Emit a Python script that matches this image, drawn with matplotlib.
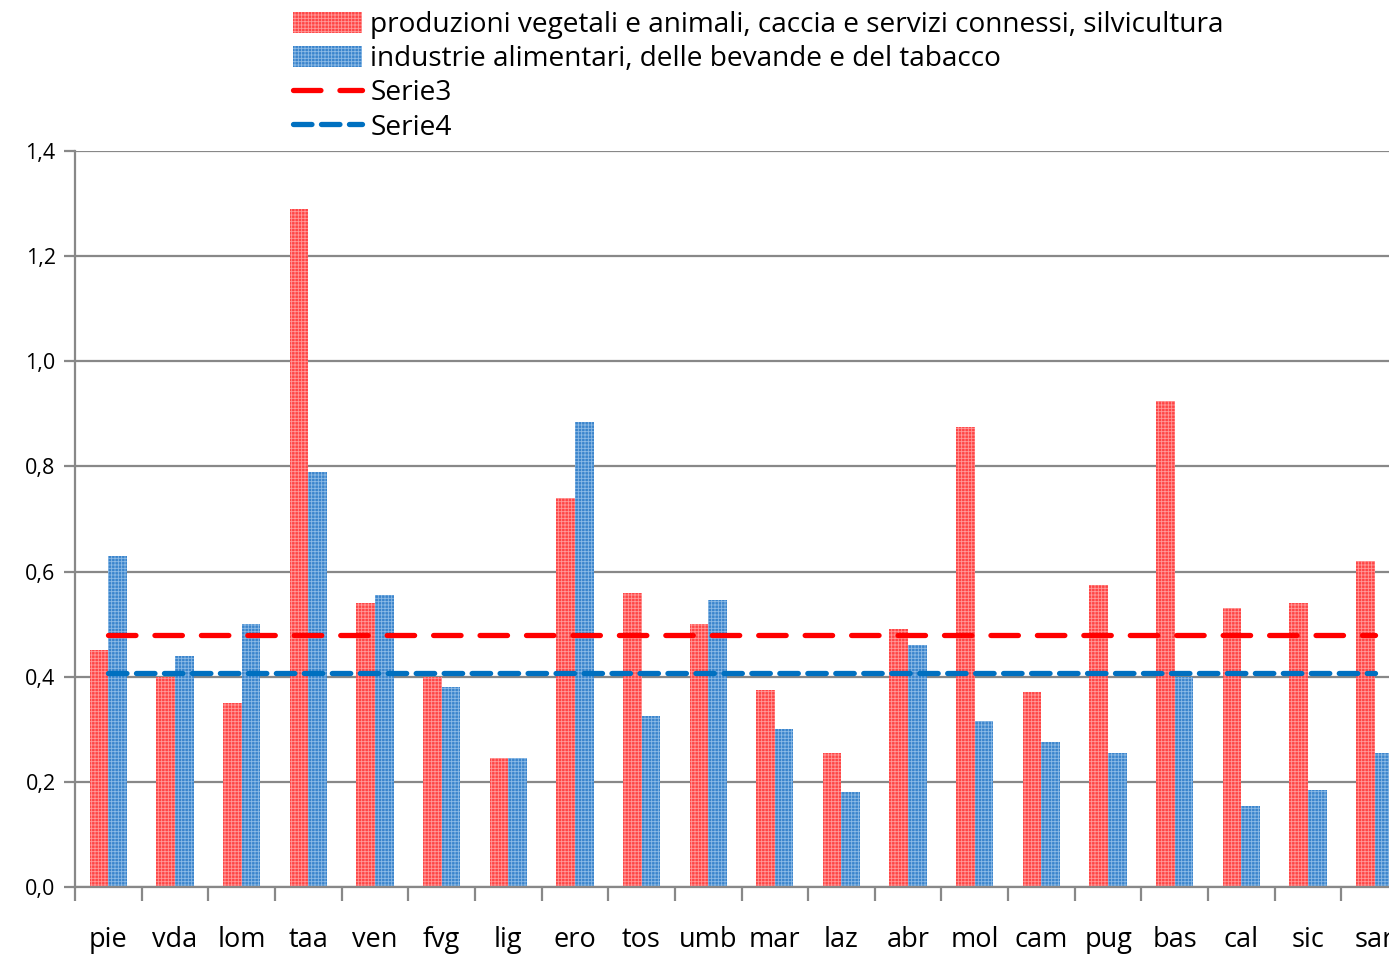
import matplotlib
matplotlib.use("Agg")
import matplotlib.pyplot as plt
import numpy as np
from matplotlib.patches import Patch
from matplotlib.lines import Line2D

regions = ["pie", "vda", "lom", "taa", "ven", "fvg", "lig", "ero", "tos", "umb",
           "mar", "laz", "abr", "mol", "cam", "pug", "bas", "cal", "sic", "sar"]
agri = [0.45, 0.40, 0.35, 1.29, 0.54, 0.40, 0.245, 0.74, 0.56, 0.50,
        0.375, 0.255, 0.49, 0.875, 0.37, 0.575, 0.925, 0.53, 0.54, 0.62]
food = [0.63, 0.44, 0.50, 0.79, 0.555, 0.38, 0.245, 0.885, 0.325, 0.545,
        0.30, 0.18, 0.46, 0.315, 0.275, 0.255, 0.40, 0.155, 0.185, 0.255]
serie3 = [0.48] * len(regions)
serie4 = [0.407] * len(regions)
labels = ["produzioni vegetali e animali, caccia e servizi connessi, silvicultura",
          "industrie alimentari, delle bevande e del tabacco", "Serie3", "Serie4"]
yticks = [0.0, 0.2, 0.4, 0.6, 0.8, 1.0, 1.2, 1.4]

plt.rcParams['font.family'] = ['Open Sans', 'DejaVu Sans']
plt.rcParams['hatch.linewidth'] = 0.6

W, H = 1389, 955
fig = plt.figure(figsize=(W / 100, H / 100), dpi=100)
left, right, top, bottom = 75, 1408, 151, 887
ax = fig.add_axes([left / W, (H - bottom) / H, (right - left) / W, (bottom - top) / H])

x = np.arange(len(regions))
bw = 0.28
red_c, blue_c = "#FF4444", "#3A84CC"
ax.bar(x - bw / 2, agri, width=bw, color=red_c, edgecolor="#FF9A9A", hatch="+++++",
       linewidth=0, zorder=2)
ax.bar(x + bw / 2, food, width=bw, color=blue_c, edgecolor="#8DBBE6", hatch="+++++",
       linewidth=0, zorder=2)
lw = 3.8
ax.plot(x, serie3, color="#FF0000", lw=lw, dashes=(5.2, 3.6), dash_capstyle="round",
        zorder=3)
ax.plot(x, serie4, color="#0070C0", lw=lw, dashes=(3.5, 1.8), dash_capstyle="round",
        zorder=3)

ax.set_xlim(-0.5, len(regions) - 0.5)
ax.set_ylim(0, 1.4)
ax.set_yticks(yticks)
ax.set_yticklabels([f"{v:.1f}".replace(".", ",") for v in yticks], fontsize=15.5)
ax.yaxis.grid(True, color="#888888", lw=1.6, zorder=0)
ax.set_axisbelow(True)
ax.set_xticks(np.arange(len(regions) + 1) - 0.5)
ax.set_xticklabels([])
ax.set_xticks(x, minor=True)
ax.set_xticklabels(regions, minor=True, fontsize=19.5)
ax.tick_params(axis="x", which="minor", length=0, pad=28)
ax.tick_params(axis="x", which="major", length=10, width=1.6, color="#888888")
ax.tick_params(axis="y", length=8, width=1.6, color="#888888", pad=6)
for s in ["top", "right"]:
    ax.spines[s].set_visible(False)
for s in ["left", "bottom"]:
    ax.spines[s].set_color("#888888")
    ax.spines[s].set_linewidth(1.6)

handles = [
    Patch(facecolor=red_c, edgecolor="#FF9A9A", hatch="+++++", linewidth=0),
    Patch(facecolor=blue_c, edgecolor="#8DBBE6", hatch="+++++", linewidth=0),
    Line2D([], [], color="#FF0000", lw=lw, dashes=(5.2, 3.6), dash_capstyle="round"),
    Line2D([], [], color="#0070C0", lw=lw, dashes=(3.5, 1.8), dash_capstyle="round"),
]
fig.legend(handles, labels, loc="upper left", bbox_to_anchor=(293 / W, 1 - 11 / H),
           frameon=False, fontsize=20.2, handlelength=2.45, handleheight=0.8,
           handletextpad=0.3, labelspacing=0.22, borderpad=0, borderaxespad=0)

fig.savefig("out.png", dpi=100)
